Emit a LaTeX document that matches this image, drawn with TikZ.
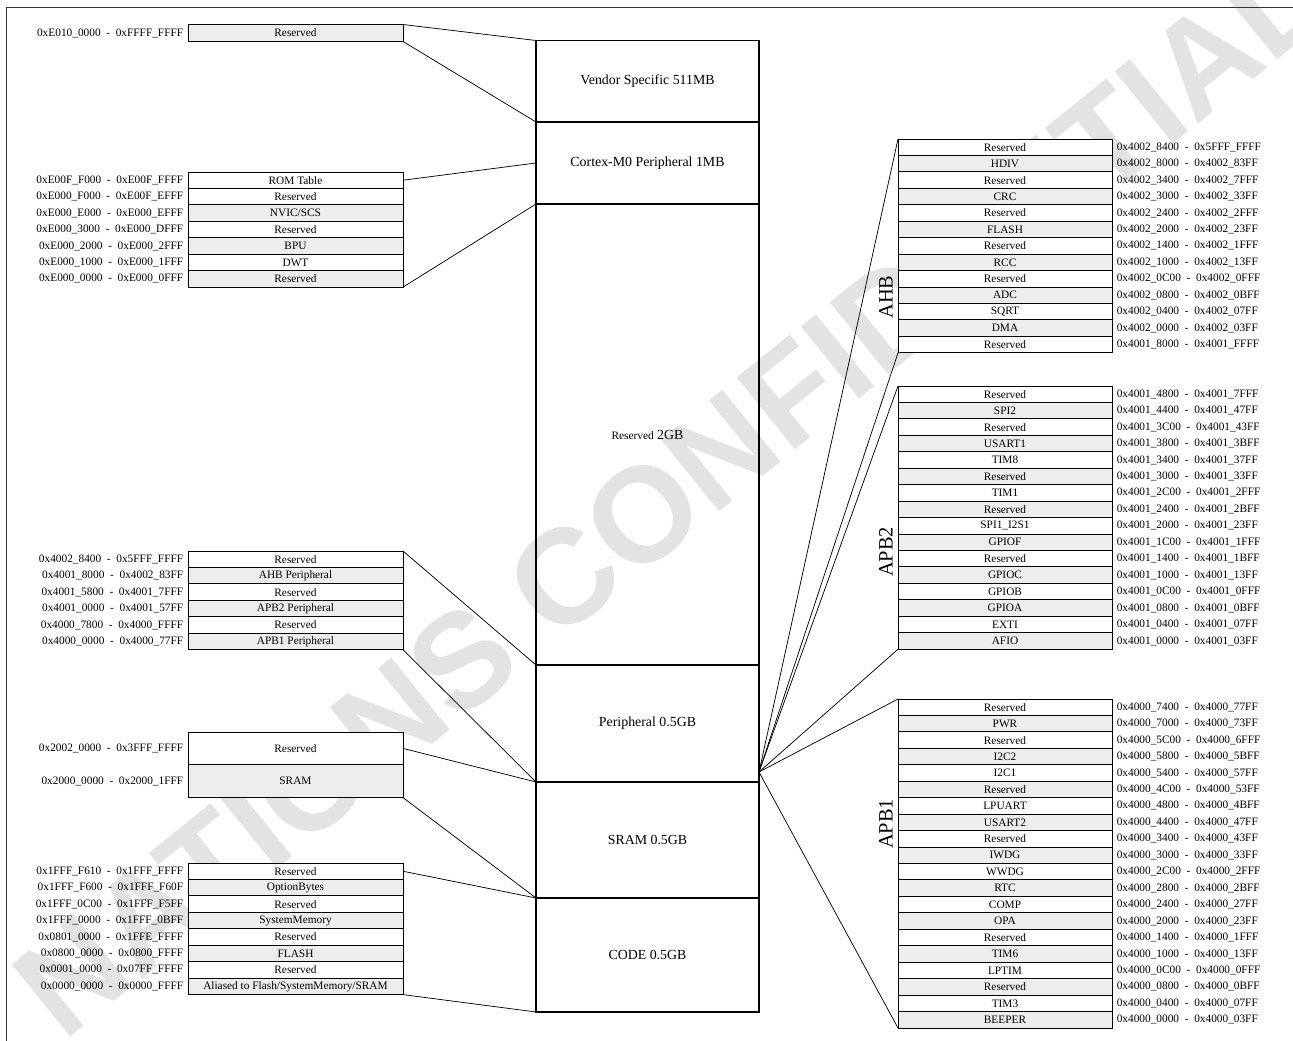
\documentclass[tikz,border=0pt]{standalone}
\usepackage{fontspec}
\setmainfont{Liberation Serif}
\newfontfamily\markfont{Liberation Sans}
\colorlet{rowgray}{black!7}
\newcommand\addrsep{\hspace{0.5em}-\hspace{0.5em}}
\tikzset{
  region/.style={draw,line width=1.3pt,inner sep=0pt,outer sep=0pt,minimum width=167.25pt,font=\fontsize{10.4}{12}\selectfont},
  memrow/.style={draw,line width=0.7pt,inner sep=0pt,outer sep=0pt,anchor=north west,minimum height=12.34pt,font=\fontsize{8.5}{10}\selectfont},
  lrow/.style={memrow,minimum width=161.25pt},
  rrow/.style={memrow,minimum width=160.5pt},
  addr/.style={inner sep=0pt,font=\fontsize{8.5}{10}\selectfont},
  bus/.style={rotate=90,inner sep=0pt,font=\fontsize{15.3}{18}\selectfont},
  link/.style={line width=0.55pt}
}
\begin{document}
\begin{tikzpicture}[x=0.75pt,y=-0.75pt]
\useasboundingbox (0,0) rectangle (1293,1041);
\node[rotate=39,inner sep=0pt,text=black!11,font=\markfont\bfseries\fontsize{101}{101}\selectfont] (mark) at (670,492) {NATIONS CONFIDENTIAL};
\draw[line width=0.6pt,black!80] (6.5,1050) -- (6.5,7.5) -- (1300,7.5);
% memory map
\node[region,minimum height=61.125pt] (vendor) at (647.5,81.25) {Vendor Specific 511MB};
\node[region,minimum height=61.5pt] (cortex) at (647.5,163) {Cortex-M0 Peripheral 1MB};
\node[region,minimum height=345.75pt] (rsv) at (647.5,434.5) {{\fontsize{8.5}{10}\selectfont Reserved} 2GB};
\node[region,minimum height=87.75pt] (periph) at (647.5,723.5) {Peripheral 0.5GB};
\node[region,minimum height=87pt] (sram) at (647.5,840) {SRAM 0.5GB};
\node[region,minimum height=85.5pt] (code) at (647.5,955) {CODE 0.5GB};
% left tables
\node[lrow,fill=rowgray,minimum height=12.75pt] (top1) at (188,24.5) {Reserved};
\node[addr,anchor=east] at ([xshift=-3.4pt]top1.west) {0xE010\_0000\addrsep0xFFFF\_FFFF};
\foreach \lbl/\adra/\adrb/\sh [count=\i] in {
  {ROM Table}/0xE00F\_F000/0xE00F\_FFFF/white, Reserved/0xE000\_F000/0xE00F\_EFFF/white,
  {NVIC/SCS}/0xE000\_E000/0xE000\_EFFF/rowgray, Reserved/0xE000\_3000/0xE000\_DFFF/white,
  BPU/0xE000\_2000/0xE000\_2FFF/rowgray, DWT/0xE000\_1000/0xE000\_1FFF/white,
  Reserved/0xE000\_0000/0xE000\_0FFF/rowgray}{
  \node[lrow,fill=\sh] (cm\i) at (188,{172+(\i-1)*16.45}) {\lbl};
  \node[addr,anchor=east] at ([xshift=-3.4pt]cm\i.west) {\adra\addrsep\adrb};
}
\foreach \lbl/\adra/\adrb/\sh [count=\i] in {
  Reserved/0x4002\_8400/0x5FFF\_FFFF/white, {AHB Peripheral}/0x4001\_8000/0x4002\_83FF/rowgray,
  Reserved/0x4001\_5800/0x4001\_7FFF/white, {APB2 Peripheral}/0x4001\_0000/0x4001\_57FF/rowgray,
  Reserved/0x4000\_7800/0x4000\_FFFF/white, {APB1 Peripheral}/0x4000\_0000/0x4000\_77FF/rowgray}{
  \node[lrow,fill=\sh] (pl\i) at (188,{551+(\i-1)*16.45}) {\lbl};
  \node[addr,anchor=east] at ([xshift=-3.4pt]pl\i.west) {\adra\addrsep\adrb};
}
\foreach \lbl/\adra/\adrb/\sh [count=\i] in {
  Reserved/0x2002\_0000/0x3FFF\_FFFF/white, SRAM/0x2000\_0000/0x2000\_1FFF/rowgray}{
  \node[lrow,fill=\sh,minimum height=24.6pt] (sl\i) at (188,{732+(\i-1)*32.8}) {\lbl};
  \node[addr,anchor=east] at ([xshift=-3.4pt]sl\i.west) {\adra\addrsep\adrb};
}
\foreach \lbl/\adra/\adrb/\sh [count=\i] in {
  Reserved/0x1FFF\_F610/0x1FFF\_FFFF/white, OptionBytes/0x1FFF\_F600/0x1FFF\_F60F/rowgray,
  Reserved/0x1FFF\_0C00/0x1FFF\_F5FF/white, SystemMemory/0x1FFF\_0000/0x1FFF\_0BFF/rowgray,
  Reserved/0x0801\_0000/0x1FFE\_FFFF/white, FLASH/0x0800\_0000/0x0800\_FFFF/rowgray,
  Reserved/0x0001\_0000/0x07FF\_FFFF/white, {Aliased to Flash/SystemMemory/SRAM}/0x0000\_0000/0x0000\_FFFF/rowgray}{
  \node[lrow,fill=\sh] (cl\i) at (188,{863+(\i-1)*16.45}) {\lbl};
  \node[addr,anchor=east] at ([xshift=-3.4pt]cl\i.west) {\adra\addrsep\adrb};
}
% right tables
\foreach \lbl/\adra/\adrb [count=\i] in {
  Reserved/0x4002\_8400/0x5FFF\_FFFF, HDIV/0x4002\_8000/0x4002\_83FF, Reserved/0x4002\_3400/0x4002\_7FFF,
  CRC/0x4002\_3000/0x4002\_33FF, Reserved/0x4002\_2400/0x4002\_2FFF, FLASH/0x4002\_2000/0x4002\_23FF,
  Reserved/0x4002\_1400/0x4002\_1FFF, RCC/0x4002\_1000/0x4002\_13FF, Reserved/0x4002\_0C00/0x4002\_0FFF,
  ADC/0x4002\_0800/0x4002\_0BFF, SQRT/0x4002\_0400/0x4002\_07FF, DMA/0x4002\_0000/0x4002\_03FF,
  Reserved/0x4001\_8000/0x4001\_FFFF}{
  \ifodd\i\def\sh{white}\else\def\sh{rowgray}\fi
  \node[rrow,fill=\sh] (ahb\i) at (898,{139+(\i-1)*16.45}) {\lbl};
  \node[addr,anchor=west] at ([xshift=3.4pt]ahb\i.east) {\adra\addrsep\adrb};
}
\foreach \lbl/\adra/\adrb [count=\i] in {
  Reserved/0x4001\_4800/0x4001\_7FFF, SPI2/0x4001\_4400/0x4001\_47FF, Reserved/0x4001\_3C00/0x4001\_43FF,
  USART1/0x4001\_3800/0x4001\_3BFF, TIM8/0x4001\_3400/0x4001\_37FF, Reserved/0x4001\_3000/0x4001\_33FF,
  TIM1/0x4001\_2C00/0x4001\_2FFF, Reserved/0x4001\_2400/0x4001\_2BFF, SPI1\_I2S1/0x4001\_2000/0x4001\_23FF,
  GPIOF/0x4001\_1C00/0x4001\_1FFF, Reserved/0x4001\_1400/0x4001\_1BFF, GPIOC/0x4001\_1000/0x4001\_13FF,
  GPIOB/0x4001\_0C00/0x4001\_0FFF, GPIOA/0x4001\_0800/0x4001\_0BFF, EXTI/0x4001\_0400/0x4001\_07FF,
  AFIO/0x4001\_0000/0x4001\_03FF}{
  \ifodd\i\def\sh{white}\else\def\sh{rowgray}\fi
  \node[rrow,fill=\sh] (apbb\i) at (898,{386+(\i-1)*16.45}) {\lbl};
  \node[addr,anchor=west] at ([xshift=3.4pt]apbb\i.east) {\adra\addrsep\adrb};
}
\foreach \lbl/\adra/\adrb [count=\i] in {
  Reserved/0x4000\_7400/0x4000\_77FF, PWR/0x4000\_7000/0x4000\_73FF, Reserved/0x4000\_5C00/0x4000\_6FFF,
  I2C2/0x4000\_5800/0x4000\_5BFF, I2C1/0x4000\_5400/0x4000\_57FF, Reserved/0x4000\_4C00/0x4000\_53FF,
  LPUART/0x4000\_4800/0x4000\_4BFF, USART2/0x4000\_4400/0x4000\_47FF, Reserved/0x4000\_3400/0x4000\_43FF,
  IWDG/0x4000\_3000/0x4000\_33FF, WWDG/0x4000\_2C00/0x4000\_2FFF, RTC/0x4000\_2800/0x4000\_2BFF,
  COMP/0x4000\_2400/0x4000\_27FF, OPA/0x4000\_2000/0x4000\_23FF, Reserved/0x4000\_1400/0x4000\_1FFF,
  TIM6/0x4000\_1000/0x4000\_13FF, LPTIM/0x4000\_0C00/0x4000\_0FFF, Reserved/0x4000\_0800/0x4000\_0BFF,
  TIM3/0x4000\_0400/0x4000\_07FF, BEEPER/0x4000\_0000/0x4000\_03FF}{
  \ifodd\i\def\sh{white}\else\def\sh{rowgray}\fi
  \node[rrow,fill=\sh] (apba\i) at (898,{699+(\i-1)*16.45}) {\lbl};
  \node[addr,anchor=west] at ([xshift=3.4pt]apba\i.east) {\adra\addrsep\adrb};
}
\node[bus] (ahb) at (886,297) {AHB};
\node[bus] (apb2) at (886,552) {APB2};
\node[bus] (apb1) at (886,824) {APB1};
% connectors
\draw[link] (top1.north east) -- (vendor.north west) (top1.south east) -- (vendor.south west);
\draw[link] (cm1.east) -- (cortex.west) (cm7.south east) -- (cortex.south west);
\draw[link] (pl1.north east) -- (periph.north west) (pl6.south east) -- (periph.south west);
\draw[link] (sl1.east) -- (sram.north west) (sl2.south east) -- (sram.south west);
\draw[link] (cl1.east) -- (code.north west) (cl8.south east) -- (code.south west);
\coordinate (fan) at (759,772);
\foreach \t in {ahb1.north west,ahb13.south west,apbb1.north west,apbb16.south west,apba1.north west,apba20.south west}
  \draw[link] (fan) -- (\t);
\end{tikzpicture}
\end{document}
